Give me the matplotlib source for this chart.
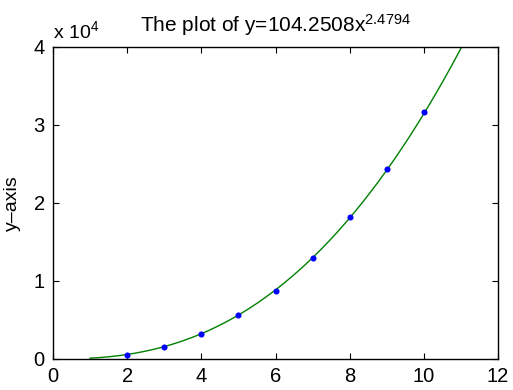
import numpy as np
import matplotlib
matplotlib.use("Agg")
import matplotlib.pyplot as plt

# data points
x_data = [2, 3, 4, 5, 6, 7, 8, 9, 10]
y_data = [500, 1580, 3200, 5640, 8760, 12950, 18200, 24400, 31670]

# fitted model coefficients shown in the title
coef_a = 104.2508
coef_b = 2.4794
x_fit_range = [1, 12]

x_ticks = [0, 2, 4, 6, 8, 10, 12]
y_ticks = [0, 10000, 20000, 30000, 40000]
y_tick_labels = ["0", "1", "2", "3", "4"]

plt.rcParams['font.family'] = ['Liberation Sans', 'DejaVu Sans']
plt.rcParams['mathtext.fontset'] = 'custom'
plt.rcParams['mathtext.rm'] = 'Liberation Sans'
plt.rcParams['mathtext.it'] = 'Liberation Sans'

fig = plt.figure(figsize=(5.13, 3.90), dpi=100)
ax = fig.add_axes([53/513, 1 - 359/390, (498-53)/513, (359-47)/390])

xf = np.linspace(x_fit_range[0], x_fit_range[1], 300)
yf = coef_a * xf ** coef_b
ax.plot(xf, yf, color=(0, 0.5, 0), lw=1.0, zorder=2)
ax.plot(x_data, y_data, 'o', color=(0, 0, 1), markersize=4.4, markeredgewidth=0, zorder=3)

ax.set_xlim(0, 12)
ax.set_ylim(0, 40000)
ax.set_xticks(x_ticks)
ax.set_yticks(y_ticks)
ax.set_yticklabels(y_tick_labels)
ax.tick_params(direction='in', top=True, right=True, length=4, width=0.8,
               labelsize=14.5, pad=6)
for s in ax.spines.values():
    s.set_linewidth(1.0)

ax.set_ylabel("y–axis", fontsize=14, labelpad=9)
ax.set_title("The plot of y=104.2508x$^{\\mathrm{2.4794}}$", fontsize=15, pad=11)
fig.text(53/513, 1 - 38/390, "x 10$^{\\mathrm{4}}$", fontsize=14, ha='left', va='baseline')

fig.savefig("out.png", dpi=100)
